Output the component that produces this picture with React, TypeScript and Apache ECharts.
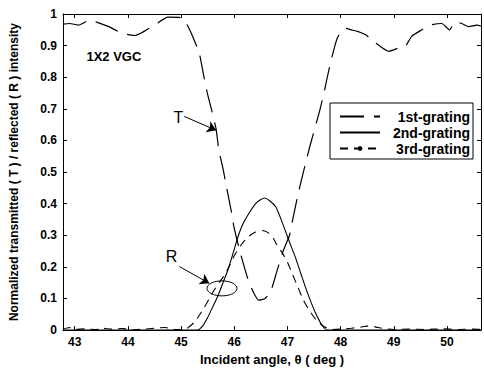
import React, { useEffect, useRef } from 'react';
import * as echarts from 'echarts';

const FONT = '"Liberation Sans", Arial, Helvetica, sans-serif';

const X_MIN = 42.78;
const X_MAX = 50.64;
const xTickValues = [43, 44, 45, 46, 47, 48, 49, 50];

const seriesNames = ['1st-grating', '2nd-grating', '3rd-grating'];

// 1st grating: transmitted (T)
const angleT = [42.78, 42.9, 43.07, 43.28, 43.45, 43.64, 43.88, 44.12, 44.25, 44.5, 44.76, 45.0, 45.1, 45.19, 45.34, 45.42, 45.5, 45.57, 45.66, 45.71, 45.79, 45.85, 45.94, 45.99, 46.06, 46.13, 46.26, 46.36, 46.46, 46.58, 46.69, 46.8, 46.93, 47.04, 47.1, 47.2, 47.3, 47.42, 47.6, 47.7, 47.75, 47.81, 47.94, 48.09, 48.2, 48.32, 48.47, 48.65, 48.78, 48.9, 49.1, 49.21, 49.34, 49.53, 49.68, 49.9, 50.05, 50.15, 50.28, 50.41, 50.56, 50.64];
const valueT = [0.968, 0.97, 0.965, 0.98, 0.972, 0.96, 0.94, 0.932, 0.94, 0.965, 0.99, 0.988, 0.97, 0.94, 0.877, 0.81, 0.745, 0.7, 0.635, 0.57, 0.51, 0.456, 0.38, 0.33, 0.28, 0.235, 0.16, 0.12, 0.095, 0.1, 0.125, 0.185, 0.255, 0.3, 0.35, 0.43, 0.5, 0.58, 0.69, 0.76, 0.8, 0.845, 0.925, 0.955, 0.95, 0.945, 0.934, 0.91, 0.893, 0.882, 0.893, 0.896, 0.93, 0.95, 0.965, 0.97, 0.95, 0.975, 0.97, 0.96, 0.965, 0.962];

// 2nd grating: reflected (R)
const angle2 = [42.78, 45.3, 45.4, 45.5, 45.6, 45.69, 45.8, 45.88, 45.99, 46.08, 46.16, 46.26, 46.4, 46.5, 46.57, 46.66, 46.78, 46.87, 46.97, 47.07, 47.15, 47.25, 47.34, 47.44, 47.53, 47.6, 47.66, 47.75, 50.64];
const value2 = [0, 0, 0.012, 0.04, 0.075, 0.107, 0.155, 0.19, 0.25, 0.3, 0.335, 0.365, 0.4, 0.413, 0.418, 0.41, 0.39, 0.355, 0.31, 0.265, 0.23, 0.18, 0.135, 0.09, 0.053, 0.03, 0.013, 0, 0];

// 3rd grating: reflected (R)
const angle3 = [42.78, 42.9, 43.0, 43.2, 43.4, 43.5, 43.7, 43.9, 44.1, 44.3, 44.5, 44.7, 44.85, 45.0, 45.05, 45.25, 45.43, 45.62, 45.8, 45.9, 46.0, 46.13, 46.26, 46.4, 46.52, 46.62, 46.72, 46.8, 46.9, 47.0, 47.1, 47.2, 47.3, 47.42, 47.55, 47.7, 47.85, 48.0, 48.2, 48.4, 48.55, 48.7, 48.85, 49.0, 49.3, 49.6, 49.9, 50.2, 50.5, 50.64];
const value3 = [0.003, 0.008, 0.002, 0.004, 0.001, 0.006, 0.003, 0.005, 0.001, 0.003, 0.006, 0.008, 0.003, 0.001, 0, 0.025, 0.07, 0.126, 0.17, 0.2, 0.235, 0.27, 0.295, 0.31, 0.315, 0.31, 0.295, 0.27, 0.245, 0.215, 0.175, 0.135, 0.095, 0.06, 0.03, 0.01, 0.002, 0.003, 0.006, 0.01, 0.014, 0.008, 0.004, 0.002, 0.003, 0.002, 0.004, 0.002, 0.003, 0.002];

// annotations (data coordinates)
const arrowT = [[45.06, 0.676], [45.66, 0.632]];
const arrowR = [[44.97, 0.201], [45.53, 0.148]];
const labelT = [44.95, 0.673];
const labelR = [44.82, 0.233];
const labelVGC = [43.22, 0.865];
const ellipseR = [45.77, 0.132];

const pair = (xs: number[], ys: number[]) => xs.map((x, i) => [x, ys[i]]);

export default function App() {
  const ref = useRef<HTMLDivElement>(null);
  useEffect(() => {
    const chart = echarts.init(ref.current!, null, { renderer: 'svg' });
    const axisLineStyle = { color: '#000', width: 1 };
    const option: any = {
      animation: false,
      backgroundColor: '#fff',
      grid: { left: 61, right: 3, top: 14, bottom: 39, containLabel: false },
      legend: {
        orient: 'vertical',
        left: 330,
        top: 103,
        itemWidth: 40,
        itemHeight: 6,
        itemGap: 1,
        padding: [6, 3, 3, 9],
        borderColor: '#000',
        borderWidth: 1,
        borderRadius: 0,
        backgroundColor: '#fff',
        selectedMode: false,
        formatter: (name: string) => '{t|' + name + '}',
        textStyle: {
          color: '#000', fontSize: 14, fontWeight: 'bold', fontFamily: FONT, lineHeight: 15,
          rich: { t: { width: 85, align: 'right', color: '#000', fontSize: 14, fontWeight: 'bold', fontFamily: FONT, lineHeight: 15 } },
        },
        data: [
          { name: seriesNames[0], itemStyle: { color: 'rgba(0,0,0,0)', borderWidth: 0 } },
          { name: seriesNames[1], itemStyle: { color: 'rgba(0,0,0,0)', borderWidth: 0 } },
          { name: seriesNames[2], itemStyle: { color: '#000', borderWidth: 0 } },
        ],
      },
      xAxis: [
        {
          type: 'value', min: X_MIN, max: X_MAX, position: 'bottom',
          axisLine: { show: true, onZero: false, lineStyle: axisLineStyle },
          axisTick: { show: true, inside: true, length: 4, customValues: xTickValues, lineStyle: axisLineStyle },
          axisLabel: { customValues: xTickValues, color: '#000', fontSize: 12, fontWeight: 'bold', fontFamily: FONT, margin: 6 },
          splitLine: { show: false },
          name: 'Incident angle, θ ( deg )', nameLocation: 'middle', nameGap: 22,
          nameTextStyle: { color: '#000', fontSize: 13, fontWeight: 'bold', fontFamily: FONT },
        },
        {
          type: 'value', min: X_MIN, max: X_MAX, position: 'top',
          axisLine: { show: true, onZero: false, lineStyle: axisLineStyle },
          axisTick: { show: true, inside: true, length: 4, customValues: xTickValues, lineStyle: axisLineStyle },
          axisLabel: { show: false },
          splitLine: { show: false },
        },
      ],
      yAxis: [
        {
          type: 'value', min: 0, max: 1, interval: 0.1, position: 'left',
          axisLine: { show: true, onZero: false, lineStyle: axisLineStyle },
          axisTick: { show: true, inside: true, length: 4, lineStyle: axisLineStyle },
          axisLabel: {
            color: '#000', fontSize: 12, fontWeight: 'bold', fontFamily: FONT, margin: 6,
            formatter: (v: number) => (v === 0 ? '0' : v === 1 ? '1' : v.toFixed(1)),
          },
          splitLine: { show: false },
          name: 'Normalized transmitted ( T ) / reflected ( R ) intensity', nameLocation: 'middle', nameGap: 43,
          nameTextStyle: { color: '#000', fontSize: 12, fontWeight: 'bold', fontFamily: FONT },
        },
        {
          type: 'value', min: 0, max: 1, interval: 0.1, position: 'right',
          axisLine: { show: true, onZero: false, lineStyle: axisLineStyle },
          axisTick: { show: true, inside: true, length: 4, lineStyle: axisLineStyle },
          axisLabel: { show: false },
          splitLine: { show: false },
        },
      ],
      series: [
        {
          name: seriesNames[0], type: 'line', data: pair(angleT, valueT), symbol: 'none', smooth: 0.2,
          xAxisIndex: 0, yAxisIndex: 0, color: '#000',
          lineStyle: { color: '#000', width: 1.2, type: [24, 10] },
          markLine: {
            silent: true, symbol: ['none', 'arrow'], symbolSize: 9, label: { show: false },
            lineStyle: { color: '#000', width: 1, type: 'solid' },
            data: [
              [{ coord: arrowT[0] }, { coord: arrowT[1] }],
              [{ coord: arrowR[0] }, { coord: arrowR[1] }],
            ],
          },
        },
        {
          name: seriesNames[1], type: 'line', data: pair(angle2, value2), symbol: 'none', smooth: 0.2,
          xAxisIndex: 0, yAxisIndex: 0, color: '#000',
          lineStyle: { color: '#000', width: 1.1, type: 'solid' },
        },
        {
          name: seriesNames[2], type: 'line', data: pair(angle3, value3), symbol: 'none', smooth: 0.2,
          xAxisIndex: 0, yAxisIndex: 0, color: '#000',
          lineStyle: { color: '#000', width: 1.1, type: [8, 6] },
        },
      ],
    };
    chart.setOption(option);
    const px = (p: number[]) => chart.convertToPixel({ gridIndex: 0 }, p) as number[];
    const pT = px(labelT);
    const pR = px(labelR);
    const pV = px(labelVGC);
    const pE = px(ellipseR);
    chart.setOption({
      graphic: [
        {
          type: 'text', x: pV[0], y: pV[1], z: 10,
          style: { text: '1X2 VGC', fill: '#000', fontSize: 13, fontWeight: 'bold', fontFamily: FONT, textAlign: 'left', textVerticalAlign: 'middle', align: 'left', verticalAlign: 'middle' },
        },
        {
          type: 'text', x: pT[0], y: pT[1], z: 10,
          style: { text: 'T', fill: '#000', fontSize: 16, fontFamily: FONT, textAlign: 'center', textVerticalAlign: 'middle', align: 'center', verticalAlign: 'middle' },
        },
        {
          type: 'text', x: pR[0], y: pR[1], z: 10,
          style: { text: 'R', fill: '#000', fontSize: 16, fontFamily: FONT, textAlign: 'center', textVerticalAlign: 'middle', align: 'center', verticalAlign: 'middle' },
        },
        {
          type: 'ellipse', z: 10,
          shape: { cx: pE[0], cy: pE[1], rx: 15, ry: 7.5 },
          style: { fill: 'none', stroke: '#000', lineWidth: 1 },
        },
      ],
    });
    return () => chart.dispose();
  }, []);
  return (
    <div
      ref={ref}
      style={{ position: 'fixed', left: 0, top: 0, width: 484, height: 371, background: '#fff' }}
    />
  );
}
